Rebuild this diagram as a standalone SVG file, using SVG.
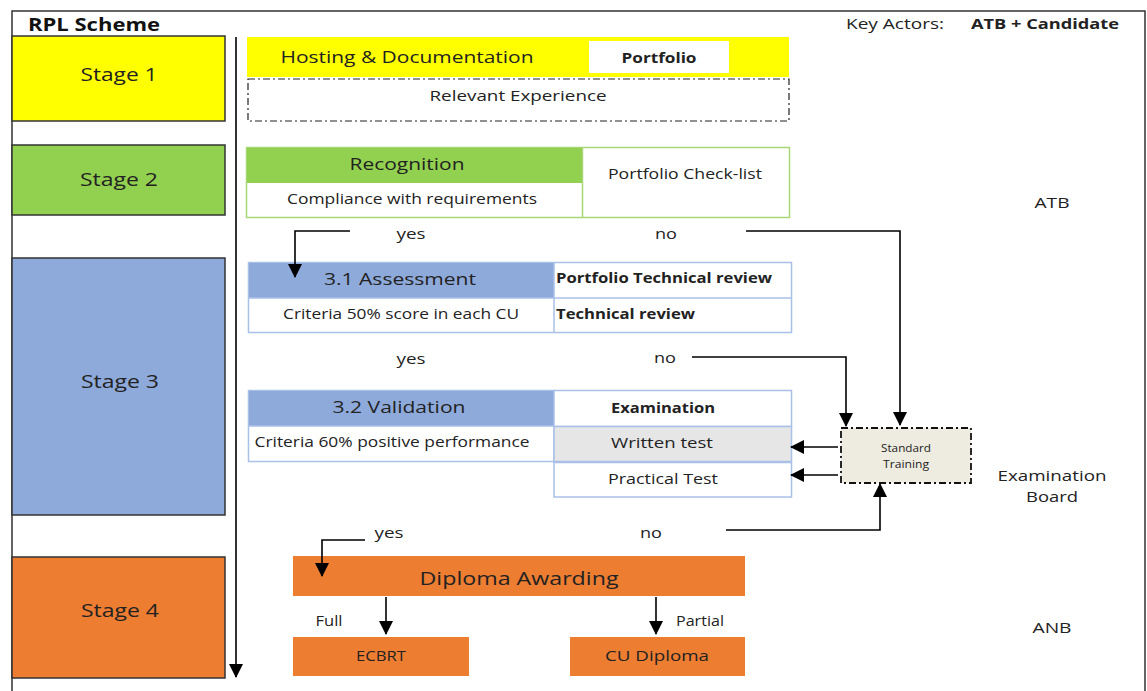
<svg xmlns="http://www.w3.org/2000/svg" width="1147" height="691" viewBox="0 0 1147 691">
<defs>
<marker id="ahb" markerWidth="14" markerHeight="14" refX="13" refY="7" orient="auto" markerUnits="userSpaceOnUse" viewBox="0 0 14 14">
<path d="M0,0 L14,7 L0,14 z" fill="#000"/>
</marker>
</defs>
<style>
text{font-family:"Open Sans","Liberation Sans",sans-serif;fill:#222;}
.stage{stroke:#333;stroke-width:1.5;}
.st{font-size:19px;text-anchor:middle;}
.c{text-anchor:middle;}
.lbl{font-size:15px;}
.sm{font-size:14px;}
.b{font-weight:bold;}
.blue{stroke:#A9C0E8;stroke-width:1.5;}
.conn{stroke:#000;stroke-width:1.6;fill:none;}
.dd{stroke:#222;stroke-dasharray:7 3 2 3;stroke-width:1.2;}
</style>
<rect width="1147" height="691" fill="#fff"/>
<g id="frame">
<path d="M12,691 V11 H1145 V691" fill="none" stroke="#333" stroke-width="1.5"/>
<text x="28" y="31" textLength="132" lengthAdjust="spacingAndGlyphs" style="font-size:18px;font-weight:bold;fill:#111">RPL Scheme</text>
<text x="846" y="29" textLength="98" lengthAdjust="spacingAndGlyphs" style="font-size:15px">Key Actors:</text>
<text x="971" y="29" textLength="148" lengthAdjust="spacingAndGlyphs" class="b" style="font-size:15px">ATB + Candidate</text>
</g>
<g id="stage1"><rect x="12" y="36" width="213" height="85" fill="#FFFF00" class="stage"/><text x="119" y="81" textLength="77" lengthAdjust="spacingAndGlyphs" class="st">Stage 1</text></g>
<g id="stage2"><rect x="12" y="145" width="213" height="70" fill="#92D050" class="stage"/><text x="119" y="186" textLength="78" lengthAdjust="spacingAndGlyphs" class="st">Stage 2</text></g>
<g id="stage3"><rect x="12" y="258" width="213" height="257" fill="#8EAADB" class="stage"/><text x="120" y="388" textLength="78" lengthAdjust="spacingAndGlyphs" class="st">Stage 3</text></g>
<g id="stage4"><rect x="12" y="557" width="213" height="121" fill="#ED7D31" class="stage"/><text x="120" y="617" textLength="78" lengthAdjust="spacingAndGlyphs" class="st">Stage 4</text></g>

<g id="hosting">
<rect x="247" y="37" width="542" height="40" fill="#FFFF00"/>
<text x="407" y="63" class="c" textLength="253" lengthAdjust="spacingAndGlyphs" style="font-size:17px">Hosting &amp; Documentation</text>
<rect x="589" y="41" width="140" height="32" fill="#fff"/>
<text x="659" y="63" class="c b sm" textLength="75" lengthAdjust="spacingAndGlyphs">Portfolio</text>
</g>
<g id="experience">
<rect x="248" y="79" width="541" height="42" style="fill:#fff" class="dd"/>
<text x="518" y="101" class="c lbl" textLength="177" lengthAdjust="spacingAndGlyphs">Relevant Experience</text>
</g>

<g id="recognition">
<rect x="246.5" y="147.5" width="543" height="70" fill="#fff" stroke="#A8D77A" stroke-width="1.5"/>
<rect x="247" y="148" width="335" height="35" fill="#92D050"/>
<line x1="582.5" y1="148" x2="582.5" y2="217" stroke="#A8D77A" stroke-width="1.5"/>
<text x="407" y="170" class="c" textLength="115" lengthAdjust="spacingAndGlyphs" style="font-size:17px">Recognition</text>
<text x="412" y="204" class="c sm" textLength="250" lengthAdjust="spacingAndGlyphs">Compliance with requirements</text>
<text x="685" y="179" class="c sm" textLength="154" lengthAdjust="spacingAndGlyphs">Portfolio Check-list</text>
</g>

<g id="assessment">
<rect x="248.5" y="262.5" width="543" height="70" fill="#fff" class="blue"/>
<rect x="249" y="263" width="305" height="35" fill="#8EAADB"/>
<line x1="554" y1="263" x2="554" y2="332" class="blue"/>
<line x1="249" y1="298" x2="791" y2="298" class="blue"/>
<text x="400" y="285" class="c" textLength="152" lengthAdjust="spacingAndGlyphs" style="font-size:17px">3.1 Assessment</text>
<text x="401" y="319" class="c sm" textLength="236" lengthAdjust="spacingAndGlyphs">Criteria 50% score in each CU</text>
<text x="556" y="283" class="b sm" textLength="216" lengthAdjust="spacingAndGlyphs">Portfolio Technical review</text>
<text x="556" y="319" class="b sm" textLength="139" lengthAdjust="spacingAndGlyphs">Technical review</text>
</g>

<g id="validation">
<rect x="248.5" y="390.5" width="305.5" height="71" fill="#fff" class="blue"/>
<rect x="249" y="391" width="305" height="35" fill="#8EAADB"/>
<line x1="249" y1="426" x2="554" y2="426" class="blue"/>
<text x="399" y="413" class="c" textLength="133" lengthAdjust="spacingAndGlyphs" style="font-size:17px">3.2 Validation</text>
<text x="392" y="447" class="c sm" textLength="275" lengthAdjust="spacingAndGlyphs">Criteria 60% positive performance</text>
</g>
<g id="examination">
<rect x="554" y="390.5" width="237.5" height="36" fill="#fff" class="blue"/>
<text x="663" y="413" class="c b sm" textLength="104" lengthAdjust="spacingAndGlyphs">Examination</text>
</g>
<g id="written">
<rect x="554" y="426.5" width="237.5" height="35" fill="#E7E6E6" class="blue"/>
<text x="662" y="448" class="c sm" textLength="102" lengthAdjust="spacingAndGlyphs">Written test</text>
</g>
<g id="practical">
<rect x="554" y="462.5" width="237.5" height="34.5" fill="#fff" class="blue"/>
<text x="663" y="484" class="c sm" textLength="110" lengthAdjust="spacingAndGlyphs">Practical Test</text>
</g>

<g id="training">
<rect x="841" y="428" width="130" height="55" style="fill:#EEECE1;stroke:#111;stroke-width:1.8" class="dd"/>
<text x="906" y="452" class="c" textLength="50" lengthAdjust="spacingAndGlyphs" style="font-size:11px">Standard</text>
<text x="906" y="468" class="c" textLength="46" lengthAdjust="spacingAndGlyphs" style="font-size:11px">Training</text>
</g>

<g id="diploma">
<rect x="293" y="556" width="452" height="40" fill="#ED7D31"/>
<text x="519" y="585" class="c" textLength="199" lengthAdjust="spacingAndGlyphs" style="font-size:19px">Diploma Awarding</text>
</g>
<g id="ecbrt">
<rect x="293" y="637" width="176" height="39" fill="#ED7D31"/>
<text x="381" y="661" class="c lbl" textLength="50" lengthAdjust="spacingAndGlyphs">ECBRT</text>
</g>
<g id="cudiploma">
<rect x="570" y="637" width="175" height="39" fill="#ED7D31"/>
<text x="657" y="661" class="c lbl" textLength="104" lengthAdjust="spacingAndGlyphs">CU Diploma</text>
</g>

<g id="actors">
<text x="1052" y="208" class="c lbl" textLength="35" lengthAdjust="spacingAndGlyphs">ATB</text>
<text x="1052" y="481" class="c lbl" textLength="109" lengthAdjust="spacingAndGlyphs">Examination</text>
<text x="1052" y="502" class="c lbl" textLength="52" lengthAdjust="spacingAndGlyphs">Board</text>
<text x="1052" y="633" class="c lbl" textLength="39" lengthAdjust="spacingAndGlyphs">ANB</text>
</g>

<g id="labels">
<text x="411" y="239" class="c lbl" textLength="29" lengthAdjust="spacingAndGlyphs">yes</text>
<text x="666" y="239" class="c lbl" textLength="22" lengthAdjust="spacingAndGlyphs">no</text>
<text x="411" y="364" class="c lbl" textLength="29" lengthAdjust="spacingAndGlyphs">yes</text>
<text x="665" y="363" class="c lbl" textLength="22" lengthAdjust="spacingAndGlyphs">no</text>
<text x="389" y="538" class="c lbl" textLength="29" lengthAdjust="spacingAndGlyphs">yes</text>
<text x="651" y="538" class="c lbl" textLength="22" lengthAdjust="spacingAndGlyphs">no</text>
<text x="329" y="626" class="c lbl" textLength="27" lengthAdjust="spacingAndGlyphs">Full</text>
<text x="700" y="626" class="c lbl" textLength="48" lengthAdjust="spacingAndGlyphs">Partial</text>
</g>

<g id="connectors">
<line x1="236" y1="37" x2="236" y2="677" class="conn" marker-end="url(#ahb)"/>
<polyline points="350,231 295,231 295,277" class="conn" marker-end="url(#ahb)"/>
<polyline points="746,231 900,231 900,425" class="conn" marker-end="url(#ahb)"/>
<polyline points="692,357 846,357 846,426" class="conn" marker-end="url(#ahb)"/>
<line x1="838" y1="447" x2="791" y2="447" class="conn" marker-end="url(#ahb)"/>
<line x1="838" y1="475" x2="791" y2="475" class="conn" marker-end="url(#ahb)"/>
<polyline points="726,530 880,530 880,484" class="conn" marker-end="url(#ahb)"/>
<polyline points="365,540 322,540 322,576" class="conn" marker-end="url(#ahb)"/>
<line x1="386" y1="597" x2="386" y2="634" class="conn" marker-end="url(#ahb)"/>
<line x1="656" y1="597" x2="656" y2="634" class="conn" marker-end="url(#ahb)"/>
</g>
</svg>
